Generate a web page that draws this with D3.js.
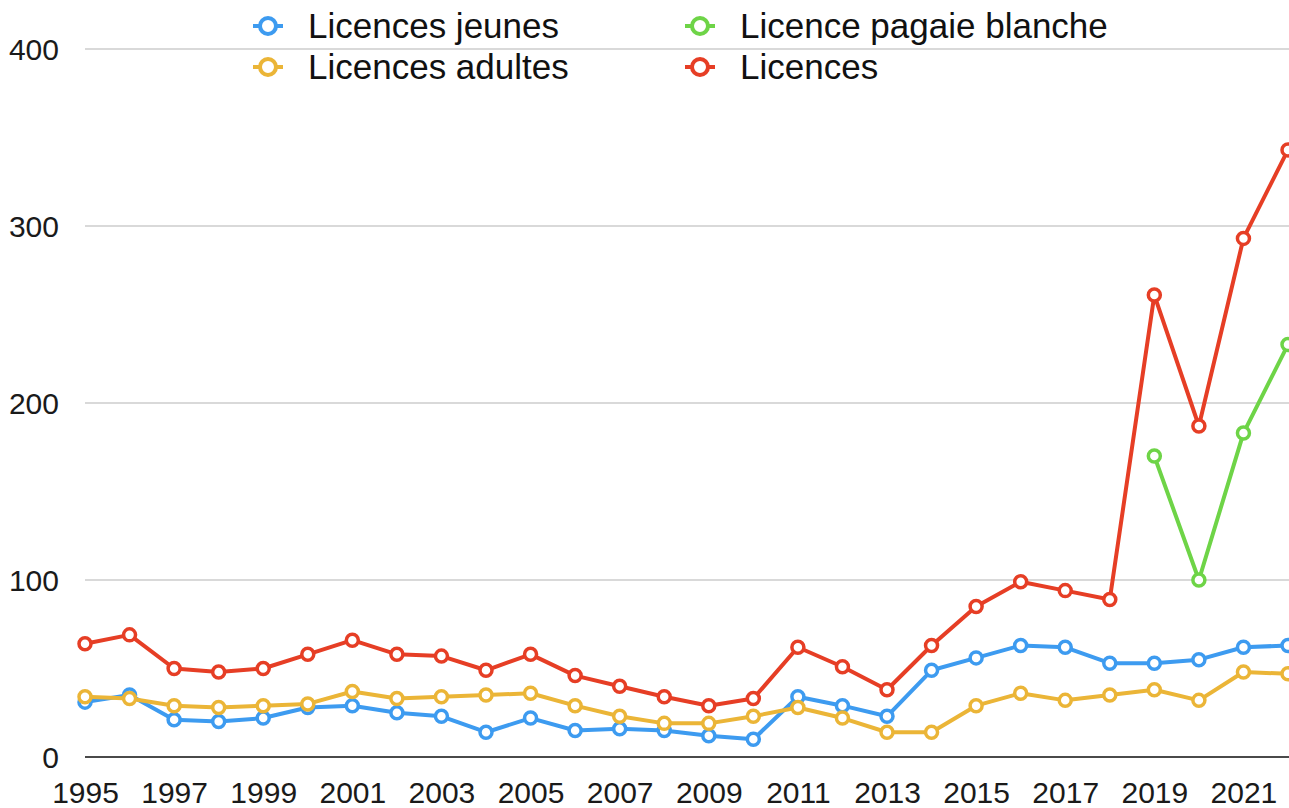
<!DOCTYPE html>
<html>
<head>
<meta charset="utf-8">
<script src="https://cdn.jsdelivr.net/npm/d3@7"></script>
<style>
  body { margin: 0; background: #fff; }
  svg { display: block; font-family: "Liberation Sans", Arial, sans-serif; }
  .grid line { stroke: #d9d9d9; stroke-width: 2; }
  .tick text { fill: #1a1a1a; }
</style>
</head>
<body>
<svg id="chart" width="1289" height="808"></svg>
<script>
var years = d3.range(1995, 2023);
var jeunes = [31, 35, 21, 20, 22, 28, 29, 25, 23, 14, 22, 15, 16, 15, 12, 10, 34, 29, 23, 49, 56, 63, 62, 53, 53, 55, 62, 63];
var adultes = [34, 33, 29, 28, 29, 30, 37, 33, 34, 35, 36, 29, 23, 19, 19, 23, 28, 22, 14, 14, 29, 36, 32, 35, 38, 32, 48, 47];
var pagaie = [null, null, null, null, null, null, null, null, null, null, null, null, null, null, null, null, null, null, null, null, null, null, null, null, 170, 100, 183, 233];
var licences = [64, 69, 50, 48, 50, 58, 66, 58, 57, 49, 58, 46, 40, 34, 29, 33, 62, 51, 38, 63, 85, 99, 94, 89, 261, 187, 293, 343];
var yTicks = [0, 100, 200, 300, 400];
var xTicks = d3.range(1995, 2022, 2);

var series = [
  { name: "Licences jeunes", values: jeunes, color: "#3d9bf0" },
  { name: "Licences adultes", values: adultes, color: "#ebb537" },
  { name: "Licence pagaie blanche", values: pagaie, color: "#6ed447" },
  { name: "Licences", values: licences, color: "#e63e25" }
];

var svg = d3.select("#chart");
var x = d3.scaleLinear().domain([1995, 2022]).range([85, 1288]);
var y = d3.scaleLinear().domain([0, 400]).range([757, 49]);

// horizontal grid
svg.append("g")
  .attr("class", "grid")
  .selectAll("line")
  .data(yTicks.filter(function(d) { return d > 0; }))
  .enter().append("line")
  .attr("x1", 85)
  .attr("x2", 1289)
  .attr("y1", function(d) { return y(d); })
  .attr("y2", function(d) { return y(d); });

// y labels
var yAxis = svg.append("g")
  .attr("transform", "translate(59,0)")
  .call(d3.axisLeft(y).tickValues(yTicks).tickSize(0).tickPadding(0));
yAxis.select(".domain").remove();
yAxis.selectAll("text").attr("font-size", 30).attr("dy", "0.35em");

// x axis
var xAxis = svg.append("g")
  .attr("transform", "translate(0," + y(0) + ")")
  .call(d3.axisBottom(x).tickValues(xTicks).tickFormat(d3.format("d")).tickSize(0).tickPadding(0));
xAxis.select(".domain").remove();
xAxis.selectAll("text").attr("font-size", 30).attr("y", 35).attr("dy", "0.35em");

svg.append("line")
  .attr("x1", 85).attr("x2", 1289)
  .attr("y1", y(0)).attr("y2", y(0))
  .attr("stroke", "#4a4a4a")
  .attr("stroke-width", 2);

var line = d3.line()
  .defined(function(d) { return d.v != null; })
  .x(function(d) { return x(d.year); })
  .y(function(d) { return y(d.v); });

series.forEach(function(s) {
  var pts = years.map(function(yr, i) { return { year: yr, v: s.values[i] }; });
  svg.append("path")
    .datum(pts)
    .attr("fill", "none")
    .attr("stroke", s.color)
    .attr("stroke-width", 4)
    .attr("stroke-linejoin", "round")
    .attr("d", line);
  svg.append("g")
    .selectAll("circle")
    .data(pts.filter(function(d) { return d.v != null; }))
    .enter().append("circle")
    .attr("cx", function(d) { return x(d.year); })
    .attr("cy", function(d) { return y(d.v); })
    .attr("r", 6)
    .attr("fill", "#fff")
    .attr("stroke", s.color)
    .attr("stroke-width", 3.5);
});

// legend
var legendPos = [[268, 26], [268, 67], [700, 26], [700, 67]];
var leg = svg.append("g").selectAll("g")
  .data(series)
  .enter().append("g")
  .attr("transform", function(d, i) {
    return "translate(" + legendPos[i][0] + "," + legendPos[i][1] + ")";
  });
leg.append("line")
  .attr("x1", -15).attr("x2", 15)
  .attr("stroke", function(d) { return d.color; })
  .attr("stroke-width", 4);
leg.append("circle")
  .attr("r", 8)
  .attr("fill", "#fff")
  .attr("stroke", function(d) { return d.color; })
  .attr("stroke-width", 4);
leg.append("text")
  .attr("x", 40)
  .attr("y", 12)
  .attr("font-size", 35)
  .attr("fill", "#111")
  .text(function(d) { return d.name; });
</script>
</body>
</html>
